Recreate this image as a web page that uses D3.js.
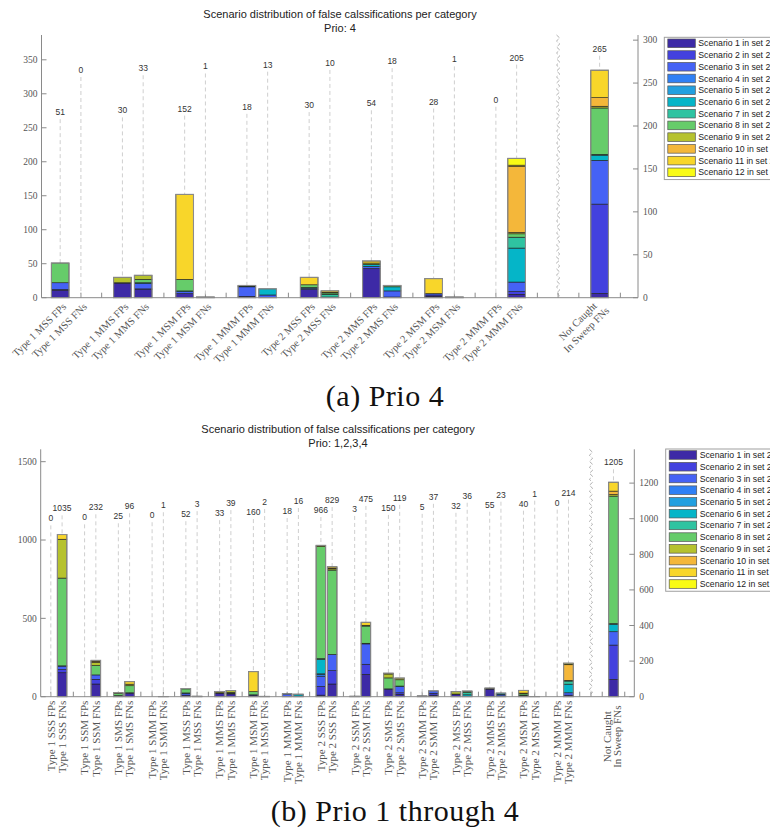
<!DOCTYPE html>
<html>
<head>
<meta charset="utf-8">
<script src="https://cdn.jsdelivr.net/npm/d3@7"></script>
<style>
  body { margin: 0; background: #fff; }
</style>
</head>
<body>
<div id="chart"></div>
<script>
// legend / scenario info
const scenarioNames = [
  "Scenario 1 in set 2", "Scenario 2 in set 2", "Scenario 3 in set 2",
  "Scenario 4 in set 2", "Scenario 5 in set 2", "Scenario 6 in set 2",
  "Scenario 7 in set 2", "Scenario 8 in set 2", "Scenario 9 in set 2",
  "Scenario 10 in set 2", "Scenario 11 in set 2", "Scenario 12 in set 2"
];
const scenarioColors = [
  "#3d2aa6", "#4341de", "#4562f5", "#2f80f5", "#22a0e0", "#05b5c8",
  "#2fc3a1", "#66cc6a", "#b6c22e", "#f4b73a", "#f8d62a", "#f9fb15"
];
const notCaughtLabel = ["Not Caught", "In Sweep FNs"];

// (a) Prio 4
const prio4Categories = [
  "Type 1 MSS FPs", "Type 1 MSS FNs", "Type 1 MMS FPs", "Type 1 MMS FNs",
  "Type 1 MSM FPs", "Type 1 MSM FNs", "Type 1 MMM FPs", "Type 1 MMM FNs",
  "Type 2 MSS FPs", "Type 2 MSS FNs", "Type 2 MMS FPs", "Type 2 MMS FNs",
  "Type 2 MSM FPs", "Type 2 MSM FNs", "Type 2 MMM FPs", "Type 2 MMM FNs"
];
// scenario 1..12 counts per bar
const prio4Stacks = [
  [11, 1, 10, 0, 0, 0, 0, 29, 0, 0, 0, 0],
  [0, 0, 0, 0, 0, 0, 0, 0, 0, 0, 0, 0],
  [21, 1, 0, 0, 0, 0, 0, 0, 8, 0, 0, 0],
  [12, 1, 8, 0, 0, 1, 0, 5, 6, 0, 0, 0],
  [6, 0, 3, 0, 0, 1, 0, 17, 0, 0, 125, 0],
  [1, 0, 0, 0, 0, 0, 0, 0, 0, 0, 0, 0],
  [2, 0, 14, 0, 0, 1, 0, 1, 0, 0, 0, 0],
  [0, 0, 4, 0, 0, 9, 0, 0, 0, 0, 0, 0],
  [12, 0, 2, 0, 0, 1, 0, 4, 0, 0, 11, 0],
  [0, 0, 0, 1, 0, 0, 4, 2, 1, 0, 2, 0],
  [43, 0, 3, 0, 0, 3, 0, 0, 2, 0, 3, 0],
  [1, 0, 9, 0, 0, 6, 0, 2, 0, 0, 0, 0],
  [2, 2, 2, 0, 0, 0, 0, 0, 0, 0, 22, 0],
  [0, 0, 0, 0, 0, 1, 0, 0, 0, 0, 0, 0],
  [0, 0, 0, 0, 0, 0, 0, 0, 0, 0, 0, 0],
  [5, 4, 14, 0, 0, 50, 16, 5, 2, 97, 2, 10]
];
const prio4NotCaught = [5, 104, 51, 0, 0, 6, 1, 54, 2, 10, 32, 0];
const prio4LeftTicks = [0, 50, 100, 150, 200, 250, 300, 350];
const prio4RightTicks = [0, 50, 100, 150, 200, 250, 300];

// (b) Prio 1 through 4
const allPrioCategories = [
  "Type 1 SSS FPs", "Type 1 SSS FNs", "Type 1 SSM FPs", "Type 1 SSM FNs",
  "Type 1 SMS FPs", "Type 1 SMS FNs", "Type 1 SMM FPs", "Type 1 SMM FNs",
  "Type 1 MSS FPs", "Type 1 MSS FNs", "Type 1 MMS FPs", "Type 1 MMS FNs",
  "Type 1 MSM FPs", "Type 1 MSM FNs", "Type 1 MMM FPs", "Type 1 MMM FNs",
  "Type 2 SSS FPs", "Type 2 SSS FNs", "Type 2 SSM FPs", "Type 2 SSM FNs",
  "Type 2 SMS FPs", "Type 2 SMS FNs", "Type 2 SMM FPs", "Type 2 SMM FNs",
  "Type 2 MSS FPs", "Type 2 MSS FNs", "Type 2 MMS FPs", "Type 2 MMS FNs",
  "Type 2 MSM FPs", "Type 2 MSM FNs", "Type 2 MMM FPs", "Type 2 MMM FNs"
];
const allPrioStacks = [
  [0, 0, 0, 0, 0, 0, 0, 0, 0, 0, 0, 0],
  [153, 20, 22, 2, 0, 0, 0, 560, 248, 0, 30, 0],
  [0, 0, 0, 0, 0, 0, 0, 0, 0, 0, 0, 0],
  [81, 30, 28, 0, 0, 0, 0, 60, 21, 6, 6, 0],
  [2, 0, 0, 0, 0, 0, 5, 15, 3, 0, 0, 0],
  [20, 5, 0, 0, 0, 0, 0, 45, 10, 0, 16, 0],
  [0, 0, 0, 0, 0, 0, 0, 0, 0, 0, 0, 0],
  [1, 0, 0, 0, 0, 0, 0, 0, 0, 0, 0, 0],
  [10, 0, 12, 0, 0, 2, 0, 26, 2, 0, 0, 0],
  [3, 0, 0, 0, 0, 0, 0, 0, 0, 0, 0, 0],
  [22, 2, 0, 0, 0, 0, 0, 0, 7, 0, 2, 0],
  [18, 0, 4, 0, 0, 0, 0, 5, 12, 0, 0, 0],
  [10, 0, 2, 0, 0, 0, 0, 20, 0, 0, 128, 0],
  [2, 0, 0, 0, 0, 0, 0, 0, 0, 0, 0, 0],
  [2, 0, 15, 0, 0, 1, 0, 0, 0, 0, 0, 0],
  [0, 0, 4, 0, 0, 12, 0, 0, 0, 0, 0, 0],
  [10, 55, 63, 12, 6, 92, 5, 715, 8, 0, 0, 0],
  [81, 85, 104, 0, 0, 0, 0, 538, 8, 5, 8, 0],
  [3, 0, 0, 0, 0, 0, 0, 0, 0, 0, 0, 0],
  [143, 64, 130, 0, 0, 0, 4, 110, 5, 0, 19, 0],
  [45, 5, 0, 0, 0, 0, 0, 70, 25, 0, 5, 0],
  [15, 10, 40, 0, 0, 3, 0, 40, 11, 0, 0, 0],
  [5, 0, 0, 0, 0, 0, 0, 0, 0, 0, 0, 0],
  [10, 12, 15, 0, 0, 0, 0, 0, 0, 0, 0, 0],
  [14, 3, 0, 0, 0, 0, 0, 0, 15, 0, 0, 0],
  [0, 0, 0, 0, 0, 12, 14, 8, 2, 0, 0, 0],
  [48, 2, 0, 0, 0, 0, 0, 0, 5, 0, 0, 0],
  [5, 0, 10, 0, 0, 8, 0, 0, 0, 0, 0, 0],
  [5, 3, 0, 0, 0, 0, 0, 10, 5, 0, 17, 0],
  [1, 0, 0, 0, 0, 0, 0, 0, 0, 0, 0, 0],
  [0, 0, 0, 0, 0, 0, 0, 0, 0, 0, 0, 0],
  [10, 0, 15, 0, 0, 55, 20, 2, 2, 100, 2, 8]
];
const allPrioNotCaught = [97, 193, 75, 0, 0, 41, 5, 716, 9, 19, 50, 0];
const allPrioLeftTicks = [0, 500, 1000, 1500];
const allPrioRightTicks = [0, 200, 400, 600, 800, 1000, 1200];

const svg = d3
  .select("#chart")
  .append("svg")
  .attr("width", 770)
  .attr("height", 828)
  .style("display", "block");

const axisColor = "#8a8a8a",
  tickTextColor = "#555",
  serif = "'Liberation Serif', 'DejaVu Serif', serif",
  sans = "'Liberation Sans', Arial, sans-serif";

function drawPanel(p) {
  var g = svg.append("g");
  var nGroups = p.categories.length / 2;
  var breakSlot = 3 * nGroups + 1,
    ncSlot = 3 * nGroups + 3;

  var x = d3.scaleLinear().domain([0.1, ncSlot + 1.85]).range([p.left, p.right]);
  var yL = d3.scaleLinear().domain([0, p.leftMax]).range([p.bottom, p.top]);
  var yR = d3.scaleLinear().domain([0, p.rightMax]).range([p.bottom, p.top]);
  var bw = x(0.85) - x(0);

  function slotOf(i) {
    return 3 * Math.floor(i / 2) + 1 + (i % 2);
  }

  // bars: categories + not caught
  var bars = p.categories.map(function (c, i) {
    return { name: [c], slot: slotOf(i), values: p.stacks[i], y: yL, group: Math.floor(i / 2), fn: i % 2 };
  });
  bars.push({ name: notCaughtLabel, slot: ncSlot, values: p.notCaught, y: yR, nc: true });
  bars.forEach(function (b) {
    b.total = d3.sum(b.values);
    var acc = 0;
    b.segs = b.values.map(function (v, k) {
      var s = { y0: acc, y1: acc + v, k: k };
      acc += v;
      return s;
    }).filter(function (s) { return s.y1 > s.y0; });
  });

  // title
  g.append("text")
    .attr("x", p.titleX).attr("y", p.titleY).attr("dy", "0.35em")
    .attr("text-anchor", "middle")
    .style("font-family", sans).style("font-size", "11px").style("fill", "#222")
    .text("Scenario distribution of false calssifications per category");
  g.append("text")
    .attr("x", p.titleX).attr("y", p.titleY + 14).attr("dy", "0.35em")
    .attr("text-anchor", "middle")
    .style("font-family", sans).style("font-size", "11px").style("fill", "#222")
    .text(p.subtitle);

  // x ticks (drawn under the bars)
  g.append("g").selectAll("line")
    .data(d3.range(1, ncSlot + 2))
    .enter().append("line")
    .attr("x1", function (d) { return x(d); })
    .attr("x2", function (d) { return x(d); })
    .attr("y1", p.bottom).attr("y2", p.bottom - 5)
    .style("stroke", axisColor).style("stroke-width", 1);

  // dashed leader lines + totals
  bars.forEach(function (b) {
    var labVal = b.nc ? p.ncLabel : (b.fn ? p.fnBase : p.fpBase) + p.labelStep * b.group;
    var ly = b.y(labVal);
    var top = b.y(b.total);
    if (top > ly + 7) {
      g.append("line")
        .attr("x1", x(b.slot)).attr("x2", x(b.slot))
        .attr("y1", ly + 7).attr("y2", top)
        .style("stroke", "#cfcfcf").style("stroke-width", 1)
        .style("stroke-dasharray", "4,3");
    }
    g.append("text")
      .attr("x", x(b.slot)).attr("y", ly).attr("dy", "0.35em")
      .attr("text-anchor", "middle")
      .style("font-family", sans).style("font-size", "8.5px").style("fill", "#333")
      .text(b.total);
  });

  // stacked bars
  var barG = g.append("g").selectAll("g").data(bars).enter().append("g");
  barG.selectAll("rect.seg")
    .data(function (b) { return b.segs.map(function (s) { s.b = b; return s; }); })
    .enter().append("rect")
    .attr("class", "seg")
    .attr("x", function (s) { return x(s.b.slot) - bw / 2; })
    .attr("width", bw)
    .attr("y", function (s) { return s.b.y(s.y1); })
    .attr("height", function (s) { return s.b.y(s.y0) - s.b.y(s.y1); })
    .style("fill", function (s) { return scenarioColors[s.k]; })
    .style("stroke", "#1f1f1f").style("stroke-width", 0.6);
  barG.filter(function (b) { return b.total > 0; })
    .append("rect")
    .attr("x", function (b) { return x(b.slot) - bw / 2; })
    .attr("width", bw)
    .attr("y", function (b) { return b.y(b.total); })
    .attr("height", function (b) { return b.y(0) - b.y(b.total); })
    .style("fill", "none").style("stroke", "#8c8c8c").style("stroke-width", 1.1);

  // break line
  var bx = x(breakSlot);
  var pts = d3.range(p.top, p.bottom + 0.1, 3).map(function (yy, i) {
    return [bx + (i % 2 ? 1.6 : -1.6), yy];
  });
  g.append("path")
    .attr("d", d3.line()(pts))
    .style("fill", "none").style("stroke", "#9a9a9a").style("stroke-width", 0.8)
    .style("stroke-dasharray", "4,2");

  // axes lines
  g.append("line").attr("x1", p.left).attr("x2", p.right)
    .attr("y1", p.bottom).attr("y2", p.bottom)
    .style("stroke", axisColor).style("stroke-width", 1);
  g.append("line").attr("x1", p.left).attr("x2", p.left)
    .attr("y1", p.top).attr("y2", p.bottom)
    .style("stroke", axisColor).style("stroke-width", 1);
  g.append("line").attr("x1", p.right).attr("x2", p.right)
    .attr("y1", p.top).attr("y2", p.bottom)
    .style("stroke", axisColor).style("stroke-width", 1);

  // left ticks
  var lt = g.append("g").selectAll("g").data(p.leftTicks).enter().append("g")
    .attr("transform", function (d) { return "translate(" + p.left + "," + yL(d) + ")"; });
  lt.append("line").attr("x1", 0).attr("x2", 5).style("stroke", axisColor);
  lt.append("text").attr("x", -4).attr("dy", "0.35em").attr("text-anchor", "end")
    .style("font-family", serif).style("font-size", "9.5px").style("fill", tickTextColor)
    .text(function (d) { return d; });

  // right ticks
  var rt = g.append("g").selectAll("g").data(p.rightTicks).enter().append("g")
    .attr("transform", function (d) { return "translate(" + p.right + "," + yR(d) + ")"; });
  rt.append("line").attr("x1", 0).attr("x2", -5).style("stroke", axisColor);
  rt.append("text").attr("x", 5).attr("dy", "0.35em").attr("text-anchor", "start")
    .style("font-family", serif).style("font-size", "9.5px").style("fill", tickTextColor)
    .text(function (d) { return d; });

  // category labels
  bars.forEach(function (b) {
    var t;
    if (p.diagonal) {
      if (b.nc) {
        t = g.append("text")
          .attr("transform", "translate(" + (x(b.slot) + 4) + "," + (p.bottom + 7) + ") rotate(-45)")
          .attr("text-anchor", "middle");
        b.name.forEach(function (line, li) {
          t.append("tspan").attr("x", -30).attr("y", li === 0 ? -3 : 9).text(line);
        });
      } else {
        t = g.append("text")
          .attr("transform", "translate(" + (x(b.slot) + 4) + "," + (p.bottom + 7) + ") rotate(-45)")
          .attr("text-anchor", "end").attr("dy", "0.35em")
          .text(b.name[0]);
      }
      t.style("font-size", "10.5px");
    } else {
      if (b.nc) {
        t = g.append("text")
          .attr("transform", "translate(" + x(b.slot) + "," + (p.bottom + 40) + ") rotate(-90)")
          .attr("text-anchor", "middle");
        b.name.forEach(function (line, li) {
          t.append("tspan").attr("x", 0).attr("y", li === 0 ? -2.5 : 7.5).text(line);
        });
      } else {
        t = g.append("text")
          .attr("transform", "translate(" + x(b.slot) + "," + (p.bottom + 4) + ") rotate(-90)")
          .attr("text-anchor", "end").attr("dy", "0.35em")
          .text(b.name[0]);
      }
      t.style("font-size", "11px");
    }
    t.style("font-family", serif).style("fill", tickTextColor);
  });

  // legend
  var lg = g.append("g").attr("transform", "translate(" + p.legendX + "," + p.legendY + ")");
  lg.append("rect").attr("x", 0).attr("y", 0).attr("width", 140).attr("height", 11.73 * 12 + 1.5)
    .style("fill", "#fff").style("stroke", "#a0a0a0").style("stroke-width", 1);
  var li = lg.selectAll("g.item").data(scenarioNames).enter().append("g")
    .attr("transform", function (d, i) { return "translate(0," + (6 + i * 11.73) + ")"; });
  li.append("rect").attr("x", 3.5).attr("y", -4.3).attr("width", 27.5).attr("height", 8.6)
    .style("fill", function (d, i) { return scenarioColors[i]; })
    .style("stroke", "#555").style("stroke-width", 0.7);
  li.append("text").attr("x", 34).attr("dy", "0.35em")
    .style("font-family", sans).style("font-size", "8.7px").style("fill", "#222")
    .text(function (d) { return d; });

  // caption
  svg.append("text")
    .attr("x", p.captionX).attr("y", p.captionY)
    .attr("text-anchor", "middle")
    .style("font-family", serif).style("font-size", "30px").style("fill", "#111")
    .style("letter-spacing", "0.5px")
    .text(p.caption);
}

drawPanel({
  categories: prio4Categories, stacks: prio4Stacks, notCaught: prio4NotCaught,
  leftTicks: prio4LeftTicks, rightTicks: prio4RightTicks,
  left: 41.5, right: 638, top: 35, bottom: 297.7,
  leftMax: 386.5, rightMax: 306,
  fpBase: 273, fnBase: 335, labelStep: 2.6, ncLabel: 290,
  titleX: 340, titleY: 14, subtitle: "Prio: 4",
  diagonal: true,
  legendX: 664.3, legendY: 37.3,
  caption: "(a) Prio 4", captionX: 385, captionY: 406
});

drawPanel({
  categories: allPrioCategories, stacks: allPrioStacks, notCaught: allPrioNotCaught,
  leftTicks: allPrioLeftTicks, rightTicks: allPrioRightTicks,
  left: 40.7, right: 634.3, top: 449.3, bottom: 696.7,
  leftMax: 1579, rightMax: 1390,
  fpBase: 1138, fnBase: 1202, labelStep: 6.7, ncLabel: 1317,
  titleX: 338, titleY: 429, subtitle: "Prio: 1,2,3,4",
  diagonal: false,
  legendX: 665.7, legendY: 449,
  caption: "(b) Prio 1 through 4", captionX: 395, captionY: 821
});
</script>
</body>
</html>
